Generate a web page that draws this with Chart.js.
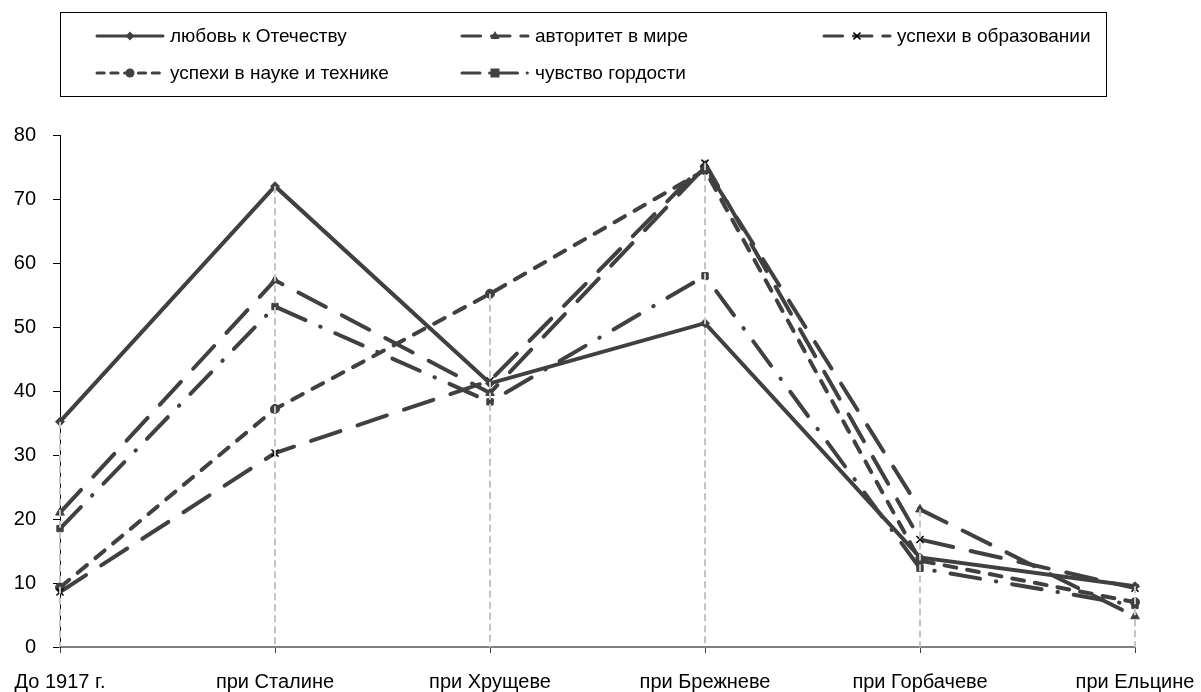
<!DOCTYPE html>
<html>
<head>
<meta charset="utf-8">
<script src="https://cdn.jsdelivr.net/npm/chart.js@4.4.1/dist/chart.umd.min.js"></script>
<style>
  html, body { margin: 0; padding: 0; background: #fff; }
  #wrap { position: relative; width: 1201px; height: 692px; font-family: "Liberation Sans", Arial, sans-serif; }
  #chart { position: absolute; left: 0; top: 0; }
  #legend { position: absolute; left: 60px; top: 12px; width: 1047px; height: 85px; border: 1px solid #000; box-sizing: border-box; }
  .item { position: absolute; height: 22px; display: flex; align-items: center; font-size: 19px; color: #000; white-space: nowrap; }
  .item svg { margin-right: 5px; }
</style>
</head>
<body>
<div id="wrap">
  <canvas id="chart" width="1201" height="692"></canvas>
  <div id="legend"></div>
</div>
<script>
// -- data ---------------------------------------------------------------

const LABELS = ['До 1917 г.', 'при Сталине', 'при Хрущеве', 'при Брежневе', 'при Горбачеве', 'при Ельцине'];

const SERIES_NAMES = [
  'любовь к Отечеству',
  'авторитет в мире',
  'успехи в образовании',
  'успехи в науке и технике',
  'чувство гордости',
];

const LOVE      = [35.2, 72.0, 41.2, 50.6, 14.0, 9.5];
const AUTHORITY = [21.0, 57.3, 39.7, 75.0, 21.5, 4.8];
const EDUCATION = [8.6, 30.3, 41.6, 75.6, 16.8, 9.2];
const SCIENCE   = [9.3, 37.2, 55.2, 74.5, 13.5, 7.0];
const PRIDE     = [18.5, 53.2, 38.3, 58.0, 12.3, 6.5];

const Y_TICKS = [0, 10, 20, 30, 40, 50, 60, 70, 80];

// -- styles -------------------------------------------------------------

const INK = '#404040';
const FONT = "'Liberation Sans', Arial, sans-serif";

const STYLES = [
  { dash: [],                point: 'rectRot',  r: 4.5 },
  { dash: [31, 18],          point: 'triangle', r: 5 },
  { dash: [31, 18],          point: 'crossRot', r: 5 },
  { dash: [12, 11],          point: 'circle',   r: 4.5 },
  { dash: [30, 16, 0.5, 16], point: 'rect',     r: 4.5 },
];

const VALUES = [LOVE, AUTHORITY, EDUCATION, SCIENCE, PRIDE];

const datasets = VALUES.map((vals, i) => ({
  label: SERIES_NAMES[i],
  data: vals,
  borderColor: INK,
  borderWidth: 4,
  borderDash: STYLES[i].dash,
  borderCapStyle: 'round',
  borderJoinStyle: 'miter',
  tension: 0,
  fill: false,
  clip: false,
  pointStyle: STYLES[i].point,
  pointRadius: STYLES[i].r,
  pointBackgroundColor: INK,
  pointBorderColor: STYLES[i].point === 'crossRot' ? '#000' : INK,
  pointBorderWidth: STYLES[i].point === 'crossRot' ? 1.5 : 1,
}));

// gray dashed drop lines from the highest value down to the axis
const dropLines = {
  id: 'dropLines',
  afterDatasetsDraw(chart) {
    const { ctx, scales: { x, y } } = chart;
    ctx.save();
    ctx.strokeStyle = '#c4c4c4';
    ctx.lineWidth = 2;
    ctx.setLineDash([7, 4]);
    LABELS.forEach((l, i) => {
      const top = Math.max(...chart.data.datasets.map(d => d.data[i]));
      const px = x.getPixelForValue(i);
      ctx.beginPath();
      ctx.moveTo(px, y.getPixelForValue(top));
      ctx.lineTo(px, y.bottom);
      ctx.stroke();
    });
    ctx.restore();
  },
};

new Chart(document.getElementById('chart'), {
  type: 'line',
  data: { labels: LABELS, datasets },
  options: {
    responsive: false,
    devicePixelRatio: 1,
    animation: false,
    layout: { padding: { top: 135, right: 66, bottom: 0, left: 0 } },
    plugins: { legend: { display: false }, tooltip: { enabled: false } },
    scales: {
      x: {
        offset: false,
        afterFit: s => { s.height = 45; },
        grid: { drawOnChartArea: false, drawTicks: true, tickLength: 6, color: INK, lineWidth: 1 },
        border: { color: '#808080', width: 2 },
        // small padding keeps the edge labels from shrinking the plot; lineHeight pushes text down
        ticks: { font: { family: FONT, size: 20, lineHeight: 2.6 }, color: '#000', padding: 3, maxRotation: 0, autoSkip: false },
      },
      y: {
        min: 0,
        max: 80,
        afterFit: s => { s.width = 60; },
        afterBuildTicks: s => { s.ticks = Y_TICKS.map(v => ({ value: v })); },
        grid: { drawOnChartArea: false, drawTicks: true, tickLength: 7, color: '#000', lineWidth: 1 },
        border: { color: '#000', width: 1 },
        ticks: { font: { family: FONT, size: 20 }, color: '#000', padding: 17 },
      },
    },
  },
  plugins: [dropLines],
});

// -- legend (html) --------------------------------------------------------

const LEGEND_POS = [
  { x: 95, y: 36 }, { x: 460, y: 36 }, { x: 822, y: 36 },
  { x: 95, y: 73 }, { x: 460, y: 73 },
];

function markerSvg(style, cx, cy) {
  const r = style.r;
  switch (style.point) {
    case 'rectRot':
      return `<polygon points="${cx},${cy - r} ${cx + r},${cy} ${cx},${cy + r} ${cx - r},${cy}" fill="${INK}"/>`;
    case 'triangle':
      return `<polygon points="${cx},${cy - r} ${cx + r * 0.9},${cy + r * 0.6} ${cx - r * 0.9},${cy + r * 0.6}" fill="${INK}"/>`;
    case 'crossRot':
      return `<path d="M${cx - 3.5} ${cy - 3.5}L${cx + 3.5} ${cy + 3.5}M${cx + 3.5} ${cy - 3.5}L${cx - 3.5} ${cy + 3.5}" stroke="#000" stroke-width="1.5"/>`;
    case 'circle':
      return `<circle cx="${cx}" cy="${cy}" r="${r}" fill="${INK}"/>`;
    default:
      return `<rect x="${cx - r}" y="${cy - r}" width="${2 * r}" height="${2 * r}" fill="${INK}"/>`;
  }
}

const legend = document.getElementById('legend');
SERIES_NAMES.forEach((name, i) => {
  const p = LEGEND_POS[i];
  const st = STYLES[i];
  const el = document.createElement('div');
  el.className = 'item';
  el.style.left = (p.x - 61) + 'px';
  el.style.top = (p.y - 13 - 11) + 'px';
  el.innerHTML =
    `<svg width="70" height="14" viewBox="0 0 70 14">` +
    `<line x1="2" y1="7" x2="68" y2="7" stroke="${INK}" stroke-width="3" stroke-linecap="round"` +
    ` stroke-dasharray="${st.dash.length ? st.dash.map(d => d * 0.6).join(' ') : 'none'}"/>` +
    markerSvg(st, 35, 7) + `</svg><span>${name}</span>`;
  legend.appendChild(el);
});
</script>
</body>
</html>
